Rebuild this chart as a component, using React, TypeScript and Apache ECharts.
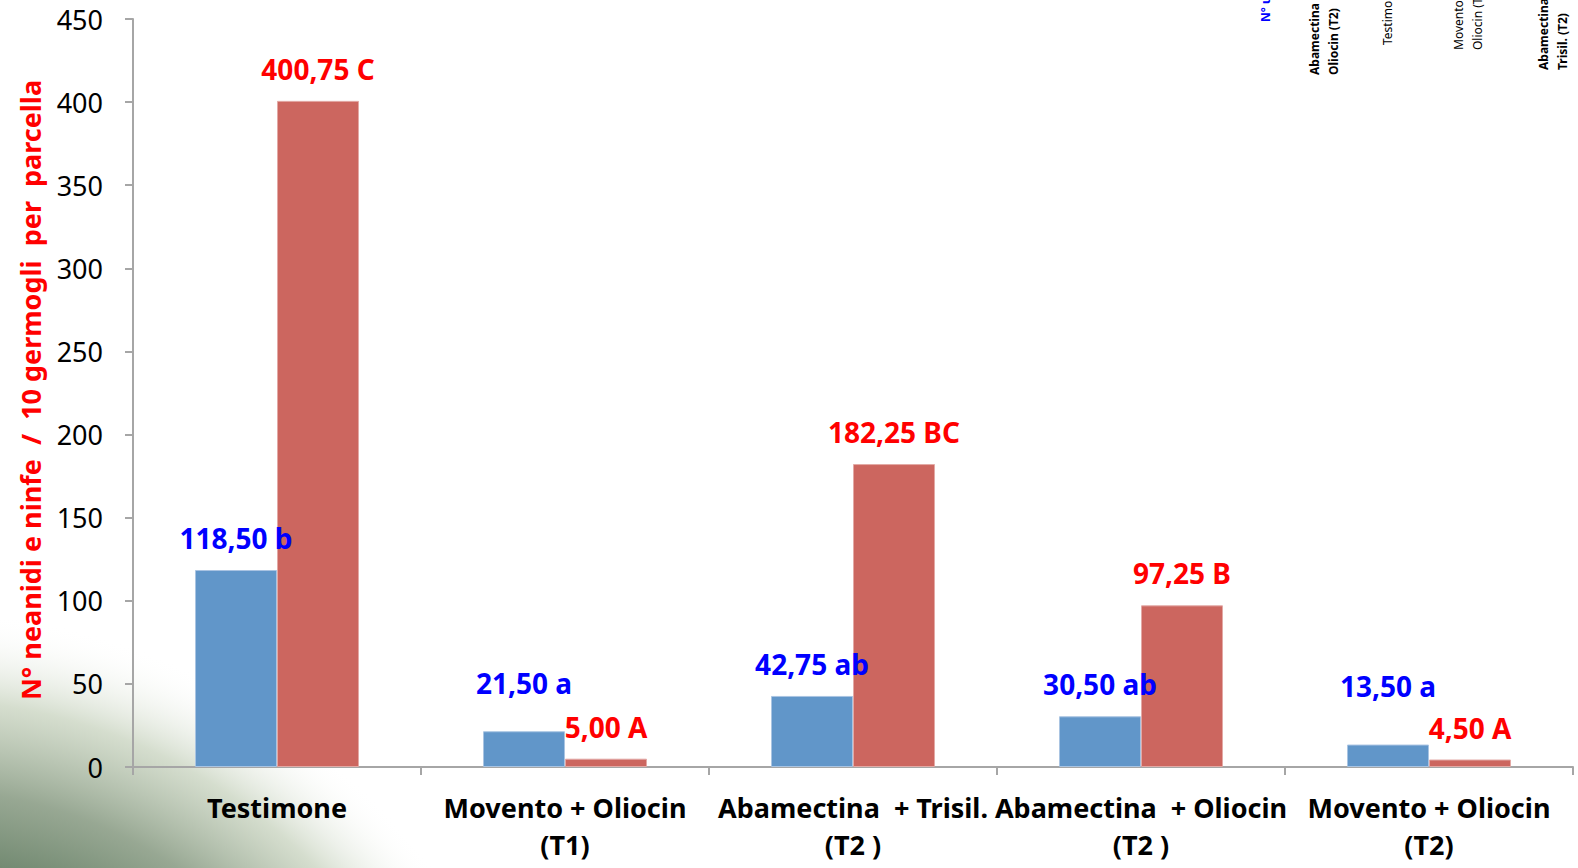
import React, { useEffect, useRef } from "react";
import * as echarts from "echarts";

const categories = [
  "Testimone",
  "Movento + Oliocin\n(T1)",
  "Abamectina  + Trisil.\n(T2 )",
  "Abamectina  + Oliocin\n(T2 )",
  "Movento + Oliocin\n(T2)",
];
const blueValues = [118.5, 21.5, 42.75, 30.5, 13.5];
const blueLetters = ["b", "a", "ab", "ab", "a"];
const redValues = [400.75, 5.0, 182.25, 97.25, 4.5];
const redLetters = ["C", "A", "BC", "B", "A"];
const blueLabelDistances = [18, 34, 18, 18, 45];
const redLabelDistances = [18, 18, 18, 18, 18];
const yTitle = "N° neanidi e ninfe  /  10 germogli  per  parcella";

const FONT = "'Noto Sans', 'Open Sans', sans-serif";
const W = 1578;
const H = 868;

const fmt = (v: number, letter: string) => v.toFixed(2).replace(".", ",") + " " + letter;

export default function App() {
  const ref = useRef<HTMLDivElement>(null);
  useEffect(() => {
    document.body.style.margin = "0";
    document.body.style.overflow = "hidden";
    if (!ref.current) return;
    const chart = echarts.init(ref.current, null, { renderer: "svg" });
    const bg = new echarts.graphic.RadialGradient(0.5, 0.5, 0.5, [
      { offset: 0, color: "rgba(55,85,60,1)" },
      { offset: 0.4, color: "rgba(68,98,72,1)" },
      { offset: 0.58, color: "rgba(100,126,100,0.97)" },
      { offset: 0.72, color: "rgba(140,158,135,0.9)" },
      { offset: 0.86, color: "rgba(195,207,185,0.7)" },
      { offset: 1, color: "rgba(255,255,255,0)" },
    ]);
    const legendTexts = [
      { x: 1265, y: 22, text: "N° uova", bold: true, color: "#0000ff" },
      { x: 1324, y: 75, text: "Abamectina +\nOliocin (T2)", bold: true, color: "#000" },
      { x: 1387, y: 45, text: "Testimone", bold: false, color: "#000" },
      { x: 1468, y: 50, text: "Movento +\nOliocin (T1)", bold: false, color: "#000" },
      { x: 1553, y: 70, text: "Abamectina +\nTrisil. (T2)", bold: true, color: "#000" },
    ];
    chart.setOption({
      animation: false,
      backgroundColor: "#ffffff",
      graphic: [
        {
          type: "rect",
          silent: true,
          z: -10,
          shape: { x: -720, y: 610, width: 1280, height: 1280 },
          style: { fill: bg },
        },
        {
          type: "text",
          x: 30,
          y: 390,
          rotation: Math.PI / 2,
          style: {
            text: yTitle,
            fill: "#ff0000",
            font: `bold 27px ${FONT}`,
            textAlign: "center",
            textVerticalAlign: "middle",
          },
        },
        ...legendTexts.map((t) => ({
          type: "text",
          x: t.x,
          y: t.y,
          rotation: Math.PI / 2,
          style: {
            text: t.text,
            fill: t.color,
            font: `${t.bold ? "bold " : ""}12px ${FONT}`,
            lineHeight: 19,
            textAlign: "left",
            textVerticalAlign: "middle",
          },
        })),
      ],
      grid: { left: 133, right: 5, top: 19, bottom: 101, containLabel: false },
      xAxis: {
        type: "category",
        data: categories,
        axisLine: { lineStyle: { color: "#a6a6a6", width: 2 } },
        axisTick: { show: true, length: 8, lineStyle: { color: "#a6a6a6", width: 2 } },
        axisLabel: {
          color: "#000",
          fontFamily: FONT,
          fontWeight: "bold",
          fontSize: 27,
          lineHeight: 37,
          margin: 22,
          interval: 0,
        },
      },
      yAxis: {
        type: "value",
        min: 0,
        max: 450,
        interval: 50,
        splitLine: { show: false },
        axisLine: { show: true, lineStyle: { color: "#a6a6a6", width: 2 } },
        axisTick: { show: true, length: 8, lineStyle: { color: "#a6a6a6", width: 2 } },
        axisLabel: { color: "#000", fontFamily: FONT, fontSize: 27, margin: 30 },
      },
      series: [
        {
          type: "bar",
          barWidth: 82,
          barGap: "0%",
          itemStyle: { color: "#6196c9", borderColor: "#a9c4e2", borderWidth: 1 },
          data: blueValues.map((v, i) => ({
            value: v,
            label: {
              show: true,
              position: "top",
              distance: blueLabelDistances[i],
              formatter: fmt(v, blueLetters[i]),
              color: "#0000ff",
              fontFamily: FONT,
              fontWeight: "bold",
              fontSize: 28,
            },
          })),
        },
        {
          type: "bar",
          barWidth: 82,
          itemStyle: { color: "#cc665f", borderColor: "#e3a9a5", borderWidth: 1 },
          data: redValues.map((v, i) => ({
            value: v,
            label: {
              show: true,
              position: "top",
              distance: redLabelDistances[i],
              formatter: fmt(v, redLetters[i]),
              color: "#ff0000",
              fontFamily: FONT,
              fontWeight: "bold",
              fontSize: 28,
            },
          })),
        },
      ],
    });
    return () => chart.dispose();
  }, []);
  return (
    <div style={{ position: "fixed", left: 0, top: 0, width: W, height: H, overflow: "hidden" }}>
      <div ref={ref} style={{ width: W, height: H }} />
    </div>
  );
}
